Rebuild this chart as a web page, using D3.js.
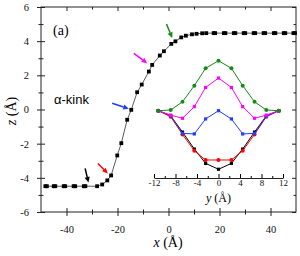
<!DOCTYPE html>
<html>
<head>
<meta charset="utf-8">
<script src="https://cdn.jsdelivr.net/npm/d3@7"></script>
<style>
body { margin: 0; background: #fff; }
svg { display: block; }
</style>
</head>
<body>
<script>
// main curve: helix axis height z against x (both in Å)
const kinkX = [-48.3, -47.7, -45.0, -44.4, -41.1, -40.5, -37.2, -36.6, -33.2, -32.6,
	-28.0, -26.0, -24.0, -22.5, -20.1, -18.5, -16.2, -14.6, -12.3, -10.5,
	-7.7, -6.4, -3.4, -1.8, 1.1, 2.7, 5.0, 6.8, 9.2, 11.0, 13.2, 14.8,
	17.7, 18.3, 21.7, 22.3, 25.6, 26.2, 29.5, 30.1, 33.4, 34.0, 37.3, 37.9, 41.3, 41.9, 45.2, 45.8, 49.0, 49.6];
const kinkZ = [-4.49, -4.49, -4.49, -4.49, -4.49, -4.49, -4.49, -4.49, -4.49, -4.49,
	-4.49, -4.39, -4.15, -3.86, -2.69, -1.97, -0.60, -0.02, 1.01, 1.46,
	2.22, 2.61, 3.16, 3.41, 3.84, 3.99, 4.22, 4.32, 4.40, 4.43, 4.46, 4.47,
	4.47, 4.47, 4.47, 4.47, 4.47, 4.47, 4.47, 4.47, 4.47, 4.47, 4.47, 4.47, 4.47, 4.47, 4.47, 4.47, 4.47, 4.47];

// arrows marking the residues shown in the inset
const arrowColors = ["#000000", "#ff0000", "#1f3cff", "#ff00ff", "#168a16"];
const arrowTailX = [-32.7, -27.7, -22.1, -13.6, -0.8];
const arrowTailZ = [-3.45, -3.16, 0.37, 3.29, 5.01];
const arrowTipX = [-31.4, -23.8, -15.6, -8.4, 1.45];
const arrowTipZ = [-4.27, -3.74, 0.04, 2.71, 4.19];

// inset: profiles across y (Å)
const insetY = [-11.2, -8.9, -6.7, -4.5, -2.4, 0, 2.4, 4.5, 6.7, 8.9, 11.2];
const insetBlack = [0, -0.31, -1.27, -2.28, -3.13, -3.48, -3.13, -2.28, -1.27, -0.31, 0];
const insetRed = [0, -0.36, -1.41, -2.38, -2.93, -2.93, -2.93, -2.38, -1.41, -0.36, 0];
const insetBlue = [0, -0.29, -1.35, -1.38, -0.49, 0, -0.49, -1.38, -1.35, -0.33, 0];
const insetMagenta = [0, -0.26, -0.45, 0.24, 1.38, 1.94, 1.38, 0.24, -0.45, -0.26, 0];
const insetGreen = [0, 0.04, 0.53, 1.49, 2.52, 2.97, 2.52, 1.49, 0.53, 0.04, 0];

const xMajor = [-40, -20, 0, 20, 40];
const xMinor = [-30, -10, 10, 30];
const zMajor = [-6, -4, -2, 0, 2, 4, 6];
const zMinor = [-5, -3, -1, 1, 3, 5];
const insetTicks = [-12, -8, -4, 0, 4, 8, 12];
const insetMinor = [-10, -6, -2, 2, 6, 10];

const serif = "'Liberation Serif', 'Times New Roman', serif";

document.addEventListener("DOMContentLoaded", function() {
	const svg = d3.select("body").append("svg")
		.attr("width", 300)
		.attr("height", 256);

	const x = d3.scaleLinear().domain([-50, 50]).range([41, 296]);
	const z = d3.scaleLinear().domain([-6, 6]).range([212, 7]);

	drawFrame(svg, x, z);
	drawInset(svg);
	drawMain(svg, x, z);
	drawArrows(svg, x, z);

	//labels
	svg.append("text")
		.attr("x", 53).attr("y", 35)
		.attr("font-family", serif).attr("font-size", 14)
		.text("(a)");
	svg.append("text")
		.attr("x", 54).attr("y", 104)
		.attr("font-family", "'Liberation Sans', Arial, sans-serif").attr("font-size", 13)
		.text("α-kink");

	const xt = svg.append("text")
		.attr("x", 168).attr("y", 247)
		.attr("text-anchor", "middle")
		.attr("font-family", serif).attr("font-size", 14);
	xt.append("tspan").attr("font-style", "italic").text("x");
	xt.append("tspan").text(" (Å)");

	const zt = svg.append("text")
		.attr("transform", "translate(16,111) rotate(-90)")
		.attr("text-anchor", "middle")
		.attr("font-family", serif).attr("font-size", 14);
	zt.append("tspan").attr("font-style", "italic").text("z");
	zt.append("tspan").text(" (Å)");
});

/**
 * box, ticks and tick labels of the main plot
 */
function drawFrame(svg, x, z) {
	const fmt = d => String(d);

	const bottom = svg.append("g").attr("transform", "translate(0," + z(-6) + ")")
		.call(d3.axisBottom(x).tickValues(xMajor).tickSizeOuter(0).tickPadding(8).tickFormat(fmt));
	bottom.selectAll(".tick line").attr("y1", -4).attr("y2", 4);
	const bottomMinor = svg.append("g").attr("transform", "translate(0," + z(-6) + ")")
		.call(d3.axisBottom(x).tickValues(xMinor).tickFormat(""));
	bottomMinor.selectAll(".tick line").attr("y1", -2.5).attr("y2", 2.5);

	svg.append("g").attr("transform", "translate(0," + z(6) + ")")
		.call(d3.axisBottom(x).tickValues(xMajor).tickSize(4).tickFormat(""));
	svg.append("g").attr("transform", "translate(0," + z(6) + ")")
		.call(d3.axisBottom(x).tickValues(xMinor).tickSize(2.5).tickFormat(""));

	const left = svg.append("g").attr("transform", "translate(" + x(-50) + ",0)")
		.call(d3.axisLeft(z).tickValues(zMajor).tickSizeOuter(0).tickPadding(6).tickFormat(fmt));
	left.selectAll(".tick line").attr("x1", -4).attr("x2", 4);
	const leftMinor = svg.append("g").attr("transform", "translate(" + x(-50) + ",0)")
		.call(d3.axisLeft(z).tickValues(zMinor).tickFormat(""));
	leftMinor.selectAll(".tick line").attr("x1", -2.5).attr("x2", 2.5);

	svg.append("g").attr("transform", "translate(" + x(50) + ",0)")
		.call(d3.axisRight(z).tickValues(zMajor).tickSize(-4).tickFormat(""));
	svg.append("g").attr("transform", "translate(" + x(50) + ",0)")
		.call(d3.axisRight(z).tickValues(zMinor).tickSize(-2.5).tickFormat(""));

	svg.selectAll(".domain").remove();
	svg.selectAll(".tick line").attr("stroke", "#222");
	svg.selectAll(".tick text")
		.attr("font-family", serif).attr("font-size", 10.5).attr("fill", "#111");

	svg.append("rect")
		.attr("x", x(-50)).attr("y", z(6))
		.attr("width", x(50) - x(-50)).attr("height", z(-6) - z(6))
		.attr("fill", "none").attr("stroke", "#222").attr("stroke-width", 1);
}

/**
 * black squares joined by a thin line
 */
function drawMain(svg, x, z) {
	const pts = kinkX.map((d, i) => [d, kinkZ[i]]);
	const line = d3.line().x(d => x(d[0])).y(d => z(d[1]));

	svg.append("path")
		.attr("d", line(pts))
		.attr("fill", "none").attr("stroke", "#333").attr("stroke-width", 0.8);

	const s = 3.8;
	svg.selectAll("rect.pt")
		.data(pts)
		.enter()
		.append("rect")
		.attr("class", "pt")
		.attr("x", d => x(d[0]) - s / 2)
		.attr("y", d => z(d[1]) - s / 2)
		.attr("width", s).attr("height", s)
		.attr("fill", "#000");
}

function drawArrows(svg, x, z) {
	arrowColors.forEach(function(c, i) {
		const x0 = x(arrowTailX[i]), y0 = z(arrowTailZ[i]);
		const x1 = x(arrowTipX[i]), y1 = z(arrowTipZ[i]);
		const a = Math.atan2(y1 - y0, x1 - x0);
		const head = 5.5, half = 2.6;
		const bx = x1 - head * Math.cos(a), by = y1 - head * Math.sin(a);

		svg.append("line")
			.attr("x1", x0).attr("y1", y0).attr("x2", bx).attr("y2", by)
			.attr("stroke", c).attr("stroke-width", 1.5);
		svg.append("path")
			.attr("d", "M" + x1 + "," + y1 +
				"L" + (bx + half * Math.sin(a)) + "," + (by - half * Math.cos(a)) +
				"L" + (bx - half * Math.sin(a)) + "," + (by + half * Math.cos(a)) + "Z")
			.attr("fill", c);
	});
}

/**
 * inset with the five cross-section profiles
 */
function drawInset(svg) {
	const xi = d3.scaleLinear().domain([-12, 12]).range([154, 283]);
	const yi = d3.scaleLinear().domain([-4, 4]).range([178, 43.4]);

	const ax = svg.append("g").attr("transform", "translate(0," + yi(-4) + ")")
		.call(d3.axisBottom(xi).tickValues(insetTicks).tickSizeInner(-4).tickSizeOuter(0).tickPadding(2)
			.tickFormat(d => String(d)));
	svg.append("g").attr("transform", "translate(0," + yi(-4) + ")")
		.call(d3.axisBottom(xi).tickValues(insetMinor).tickSizeInner(-2).tickSizeOuter(0).tickFormat(""))
		.select(".domain").remove();
	ax.select(".domain").attr("stroke", "#222");
	ax.selectAll(".tick text").attr("font-family", serif).attr("font-size", 9).attr("fill", "#111");

	const yt = svg.append("text")
		.attr("x", xi(0)).attr("y", 202)
		.attr("text-anchor", "middle")
		.attr("font-family", serif).attr("font-size", 12);
	yt.append("tspan").attr("font-style", "italic").text("y");
	yt.append("tspan").text(" (Å)");

	const series = [
		{ v: insetBlack, c: "#000000", shape: "square" },
		{ v: insetRed, c: "#ff0000", shape: "circle" },
		{ v: insetBlue, c: "#1f3cff", shape: "square" },
		{ v: insetMagenta, c: "#ff00ff", shape: "square" },
		{ v: insetGreen, c: "#168a16", shape: "circle" }
	];
	const line = d3.line().x(d => xi(d[0])).y(d => yi(d[1]));

	series.forEach(function(s) {
		const pts = insetY.map((d, i) => [d, s.v[i]]);
		svg.append("path")
			.attr("d", line(pts))
			.attr("fill", "none").attr("stroke", s.c).attr("stroke-width", 1);
		if (s.shape === "circle") {
			svg.append("g").selectAll("circle")
				.data(pts).enter().append("circle")
				.attr("cx", d => xi(d[0])).attr("cy", d => yi(d[1]))
				.attr("r", 2).attr("fill", s.c);
		} else {
			svg.append("g").selectAll("rect")
				.data(pts).enter().append("rect")
				.attr("x", d => xi(d[0]) - 1.6).attr("y", d => yi(d[1]) - 1.6)
				.attr("width", 3.2).attr("height", 3.2).attr("fill", s.c);
		}
	});
}
</script>
</body>
</html>
